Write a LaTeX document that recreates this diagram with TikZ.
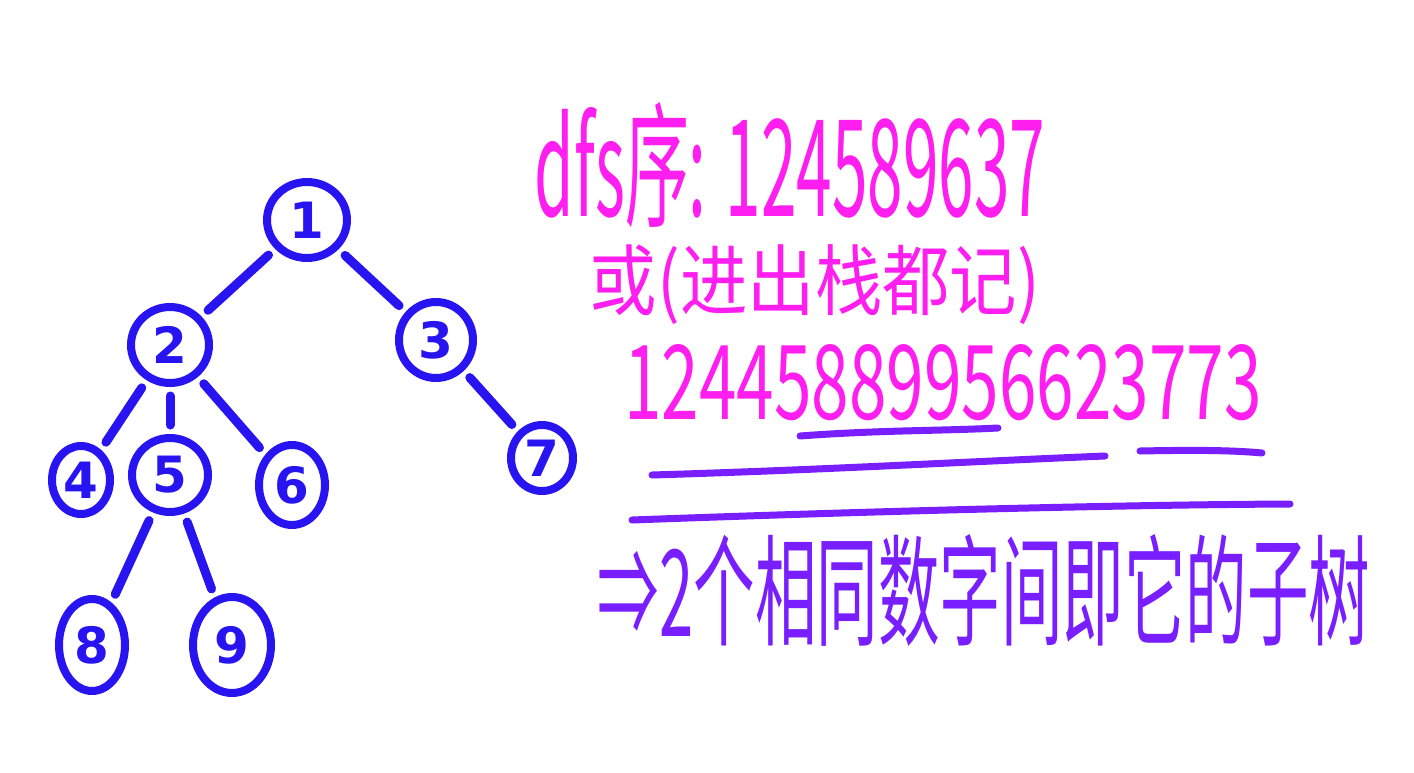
\documentclass[tikz,border=0pt]{standalone}
\usepackage{fontspec}
\usepackage{graphicx}
\setmainfont{DejaVu Sans}
\newfontfamily\cjk{Noto Sans CJK SC}
\usetikzlibrary{shapes.geometric}
\definecolor{treeblue}{RGB}{40,20,240}
\definecolor{inkpink}{RGB}{255,30,240}
\definecolor{inkpurple}{RGB}{120,30,255}
\tikzset{
  tnode/.style={ellipse, draw=treeblue, line width=8pt, text=treeblue,
    minimum width=72pt, minimum height=72pt, inner sep=0pt,
    font=\fontsize{50}{50}\selectfont\bfseries},
  tedge/.style={draw=treeblue, line width=9pt, line cap=round,
    shorten <=9pt, shorten >=9pt},
  uline/.style={draw=inkpurple, line width=7pt, line cap=round},
  txt/.style={inner sep=0pt, anchor=center}
}
\begin{document}
\begin{tikzpicture}[x=1pt,y=-1pt]
\useasboundingbox[fill=white] (0,0) rectangle (1414,773);
% tree nodes
\node[tnode, minimum width=80pt, minimum height=76pt] (n1) at (307,220) {1};
\node[tnode, minimum width=78pt, minimum height=76pt] (n2) at (170,345) {2};
\node[tnode, minimum width=74pt, minimum height=76pt] (n3) at (436,340) {3};
\node[tnode, minimum width=58pt, minimum height=68pt] (n4) at (81,480) {4};
\node[tnode, minimum width=76pt, minimum height=74pt] (n5) at (170,475) {5};
\node[tnode, minimum width=66pt, minimum height=80pt] (n6) at (292,485) {6};
\node[tnode, minimum width=62pt, minimum height=66pt] (n7) at (542,458) {7};
\node[tnode, minimum width=66pt, minimum height=92pt] (n8) at (92,645) {8};
\node[tnode, minimum width=78pt, minimum height=96pt] (n9) at (232,645) {9};
% tree edges
\draw[tedge] (n1) -- (n2);
\draw[tedge] (n1) -- (n3);
\draw[tedge] (n2) -- (n4);
\draw[tedge] (n2) -- (n5);
\draw[tedge] (n2) -- (n6);
\draw[tedge] (n3) -- (n7);
\draw[tedge] (n5) -- (n8);
\draw[tedge] (n5) -- (n9);
% texts
\node[txt, text=inkpink] (t1) at (790,165) {\resizebox*{510pt}{125pt}{\cjk dfs序: 124589637}};
\node[txt, text=inkpink] (t2) at (815,285) {\resizebox*{450pt}{80pt}{\cjk 或(进出栈都记)}};
\node[txt, text=inkpink] (t3) at (943,383) {\resizebox{637pt}{75pt}{\cjk 12445889956623773}};
\node[txt, text=inkpurple] (t4) at (984,590) {\resizebox*{772pt}{112pt}{\cjk ⇒2个相同数字间即它的子树}};
% underlines
\draw[uline] (800,436) .. controls (880,430) and (940,431) .. (998,428);
\draw[uline] (652,475) .. controls (820,470) and (960,462) .. (1105,456);
\draw[uline] (1140,451) .. controls (1190,450) and (1230,450) .. (1262,453);
\draw[uline] (632,520) .. controls (850,512) and (1100,505) .. (1290,504);
\end{tikzpicture}
\end{document}
